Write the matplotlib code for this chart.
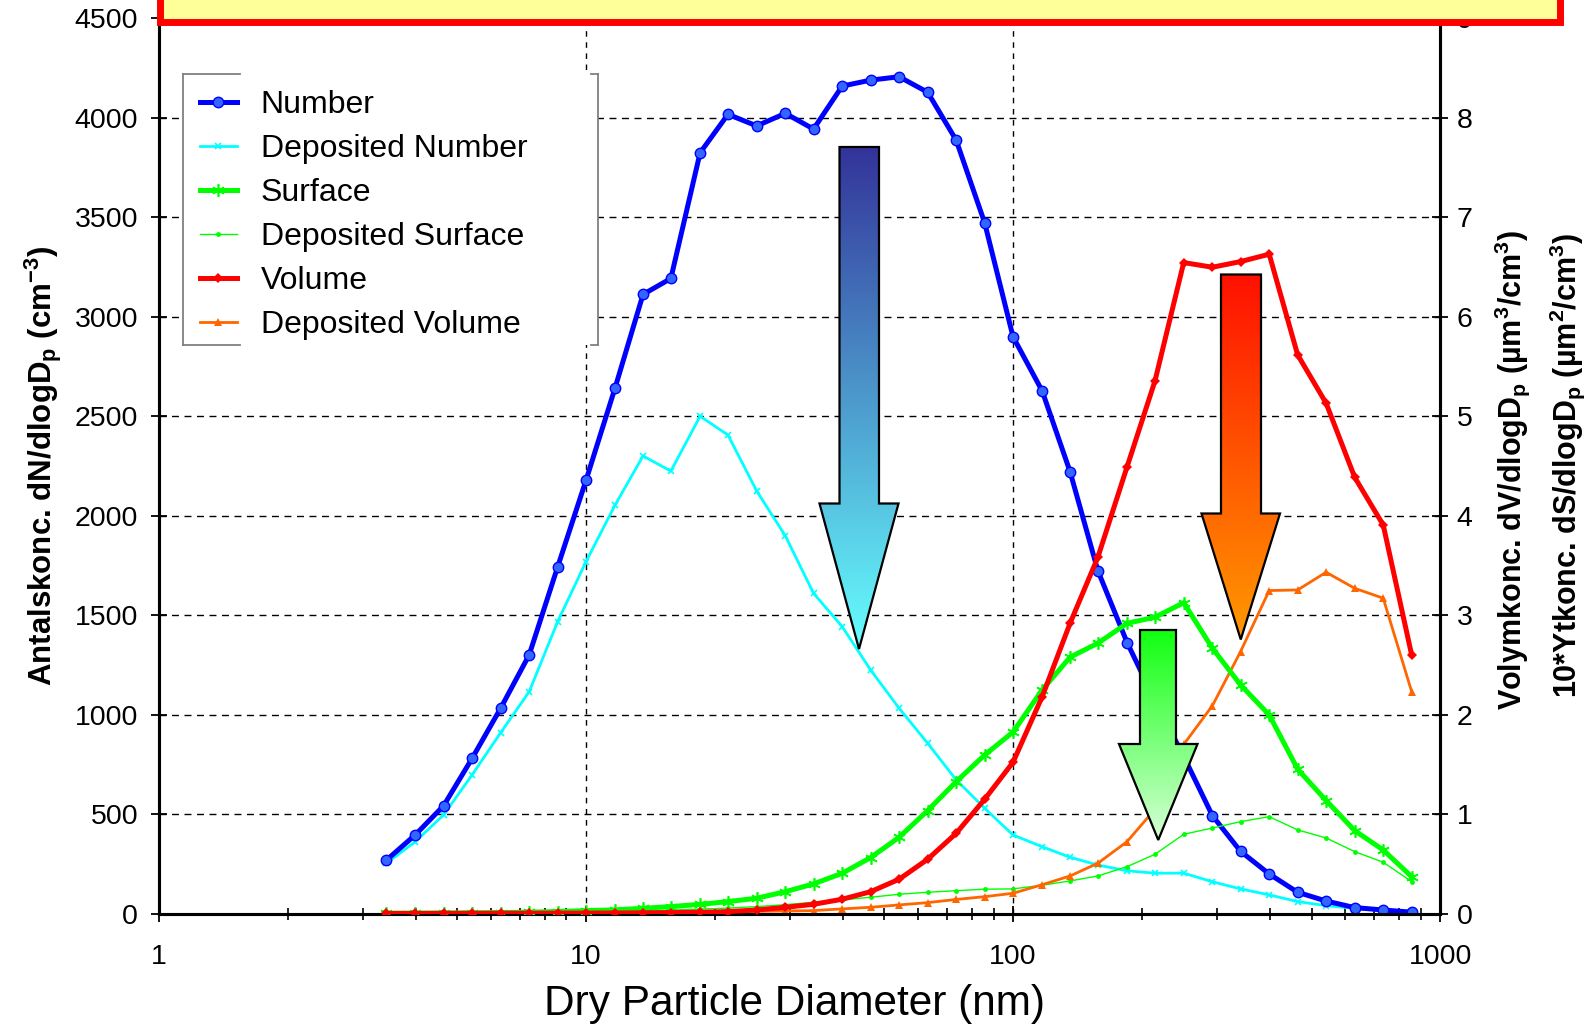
import numpy as np
import matplotlib
matplotlib.use('Agg')
import matplotlib.pyplot as plt
from matplotlib.patches import Polygon, Rectangle
from matplotlib.lines import Line2D
from matplotlib.colors import LinearSegmentedColormap

plt.rcParams['font.family'] = ['Liberation Sans', 'DejaVu Sans']
plt.rcParams['mathtext.fontset'] = 'custom'
plt.rcParams['mathtext.rm'] = 'Liberation Sans:bold'
plt.rcParams['mathtext.it'] = 'Liberation Sans:bold'
plt.rcParams['mathtext.bf'] = 'Liberation Sans:bold'

#---------------------- DATA
# dry diameter (nm), 15 channels per decade
dp = [3.41, 3.98, 4.64, 5.41, 6.31, 7.36, 8.58, 10.0, 11.7, 13.6, 15.8, 18.5,
      21.5, 25.1, 29.3, 34.1, 39.8, 46.4, 54.1, 63.1, 73.6, 85.8, 100, 117,
      136, 158, 185, 215, 251, 293, 341, 398, 464, 541, 631, 736, 858]

# left axis, dN/dlogDp (cm-3)
number     = [269, 395, 542, 780, 1032, 1300, 1742, 2178, 2643, 3112, 3192, 3824,
              4017, 3959, 4022, 3943, 4159, 4189, 4206, 4128, 3887, 3472, 2899, 2627,
              2221, 1723, 1362, 1070, 790, 492, 313, 199, 107, 63, 30, 18, 7]
dep_number = [253, 361, 496, 697, 909, 1115, 1467, 1769, 2054, 2300, 2224, 2500,
              2405, 2124, 1898, 1610, 1442, 1224, 1032, 856, 672, 529, 395, 336,
              283, 244, 215, 203, 203, 160, 124, 94, 60, 40, 26, 15, 7]

# right axis, 10*dS/dlogDp and dV/dlogDp
surface     = [0.004, 0.005, 0.006, 0.008, 0.010, 0.014, 0.020, 0.030, 0.037, 0.053,
               0.070, 0.093, 0.120, 0.154, 0.220, 0.298, 0.405, 0.563, 0.767, 1.035,
               1.326, 1.594, 1.825, 2.248, 2.577, 2.718, 2.918, 2.979, 3.125, 2.667,
               2.299, 1.997, 1.451, 1.136, 0.834, 0.639, 0.371]
dep_surface = [0.003, 0.004, 0.005, 0.006, 0.008, 0.010, 0.012, 0.015, 0.020, 0.025,
               0.035, 0.045, 0.055, 0.070, 0.090, 0.113, 0.137, 0.164, 0.194, 0.214,
               0.230, 0.245, 0.248, 0.285, 0.328, 0.378, 0.472, 0.596, 0.797, 0.860,
               0.924, 0.974, 0.841, 0.760, 0.623, 0.516, 0.321]
volume      = [0.001, 0.001, 0.002, 0.002, 0.003, 0.003, 0.004, 0.005, 0.006, 0.008,
               0.010, 0.013, 0.020, 0.036, 0.063, 0.093, 0.144, 0.220, 0.345, 0.546,
               0.807, 1.149, 1.521, 2.180, 2.918, 3.582, 4.493, 5.355, 6.544, 6.497,
               6.554, 6.628, 5.616, 5.130, 4.386, 3.906, 2.600]
dep_volume  = [0.001, 0.001, 0.001, 0.002, 0.002, 0.003, 0.003, 0.004, 0.005, 0.006,
               0.008, 0.012, 0.017, 0.022, 0.026, 0.030, 0.047, 0.063, 0.087, 0.110,
               0.142, 0.170, 0.204, 0.290, 0.378, 0.506, 0.724, 1.050, 1.700, 2.090,
               2.633, 3.247, 3.253, 3.431, 3.270, 3.170, 2.231]

labels = ['Number', 'Deposited Number', 'Surface', 'Deposited Surface',
          'Volume', 'Deposited Volume']

#---------------------- FIGURE
W, H = 1590, 1031
fig = plt.figure(figsize=(W/100., H/100.), dpi=100)
ax = fig.add_axes([0.1, 0.1139, 0.8057, 0.8684])
ax2 = ax.twinx()

l1, = ax.plot(dp, number, color='#0000FF', lw=3.6, marker='o', ms=7.5,
              mfc='#3366FF', mec='#0000FF', mew=1, zorder=3)
l2, = ax.plot(dp, dep_number, color='#00FFFF', lw=2.0, marker='x', ms=5,
              mew=1.2, zorder=2)
l3, = ax2.plot(dp, surface, color='#00FF00', lw=3.6, marker=(6, 2, 0), ms=9,
               mew=1.2, zorder=3)
l4, = ax2.plot(dp, dep_surface, color='#00FF00', lw=1.0, marker='o', ms=3.5,
               mew=0, zorder=2)
l5, = ax2.plot(dp, volume, color='#FF0000', lw=3.6, marker='D', ms=5.5,
               mew=0, zorder=3)
l6, = ax2.plot(dp, dep_volume, color='#FF6600', lw=2.0, marker='^', ms=5.5,
               mew=0, zorder=2)

ax.set_xscale('log')
ax.set_xlim(1, 1000)
ax.set_ylim(0, 4500)
ax2.set_ylim(0, 9)
ax.set_xticks([1, 10, 100, 1000])
ax.set_xticklabels(['1', '10', '100', '1000'])
ax.set_yticks(np.arange(0, 4501, 500))
ax2.set_yticks(np.arange(0, 10, 1))

##-----------for beauty
for yy in np.arange(500, 4500, 500):
    ax.axhline(yy, color='black', lw=1.0, ls=(0, (5, 4)), zorder=0.5)
for xx in [10, 100]:
    ax.axvline(xx, color='black', lw=1.0, ls=(0, (4, 4)), zorder=0.5)

# white area behind the legend hides the grid
ax.add_patch(Rectangle((182.5/W, 1-345./H), (598-182.5)/W, (345-74.)/H,
                       transform=fig.transFigure, fc='white', ec='none', zorder=1))

for a in [ax, ax2]:
    for s in a.spines.values():
        s.set_linewidth(2.2)
ax.tick_params(axis='both', which='major', direction='inout', length=12,
               width=1.3, labelsize=20.5, pad=9)
ax.tick_params(axis='x', which='minor', direction='inout', length=9, width=1.2)
ax.tick_params(axis='x', which='major', pad=16)
ax2.tick_params(axis='y', direction='inout', length=12, width=1.3,
                labelsize=20.5, pad=6)

fig.text(794./W, 1-1004./H, 'Dry Particle Diameter (nm)', fontsize=30.5,
         ha='center', va='center')
fig.text(43./W, 1-466./H, r'Antalskonc. dN/dlogD$_{p}$ (cm$^{-3}$)',
         fontsize=22.5, fontweight='bold', rotation=90, ha='center', va='center')
fig.text(1512./W, 1-470./H, r'Volymkonc. dV/dlogD$_{p}$ (µm$^{3}$/cm$^{3}$)',
         fontsize=22, fontweight='bold', rotation=90, ha='center', va='center')
fig.text(1567./W, 1-465./H, r'10*Ytkonc. dS/dlogD$_{p}$ (µm$^{2}$/cm$^{3}$)',
         fontsize=22, fontweight='bold', rotation=90, ha='center', va='center')

leg = ax2.legend([l1, l2, l3, l4, l5, l6], labels, loc='upper left',
                 bbox_to_anchor=(200./W, 1-90./H), bbox_transform=fig.transFigure,
                 frameon=False, fontsize=23, labelspacing=0.44, handlelength=1.15,
                 handletextpad=0.75, borderpad=0, borderaxespad=0, numpoints=1)

#---------------------- overlay: legend frame, arrows, yellow box
ov = fig.add_axes([0, 0, 1, 1], zorder=10)
ov.set_xlim(0, W)
ov.set_ylim(H, 0)
ov.axis('off')
ov.patch.set_alpha(0)

fc = '#808080'
for seg in [[(182.5, 182.5), (74, 345)], [(182.5, 240), (74, 74)],
            [(182.5, 240), (345, 345)], [(598, 598), (74, 345)],
            [(591, 598), (74, 74)], [(591, 598), (345, 345)]]:
    ov.add_line(Line2D(seg[0], seg[1], color=fc, lw=1.3))


def grad_arrow(xl, xr, ytop, ybase, hl, hr, ytip, c_top, c_bot):
    xc = (hl + hr) / 2.
    verts = [(xl, ytop), (xr, ytop), (xr, ybase), (hr, ybase), (xc, ytip),
             (hl, ybase), (xl, ybase)]
    poly = Polygon(verts, closed=True, fc='none', ec='black', lw=1.6, zorder=3)
    ov.add_patch(poly)
    cmap = LinearSegmentedColormap.from_list('g', [c_top, c_bot])
    grad = np.linspace(0, 1, 256)[:, None]
    im = ov.imshow(grad, cmap=cmap, extent=[hl, hr, ytip, ytop], aspect='auto',
                   origin='upper', zorder=2)
    im.set_clip_path(poly)


grad_arrow(839.5, 879, 147, 503.5, 819.5, 898.5, 649, '#333399', '#66FFFF')
grad_arrow(1221, 1261, 274.5, 513.5, 1201.5, 1280, 639.5, '#FF1000', '#FF9900')
grad_arrow(1140, 1176, 630, 744, 1119, 1197.5, 840, '#11FF11', '#D8FFD8')

ov.add_patch(Rectangle((159.5, -20), 1400.5, 41.7, fc='#FFFF99', ec='#FF0000',
                       lw=5.0, zorder=4))
ov.set_xlim(0, W)
ov.set_ylim(H, 0)

plt.savefig('out.png', dpi=100)
